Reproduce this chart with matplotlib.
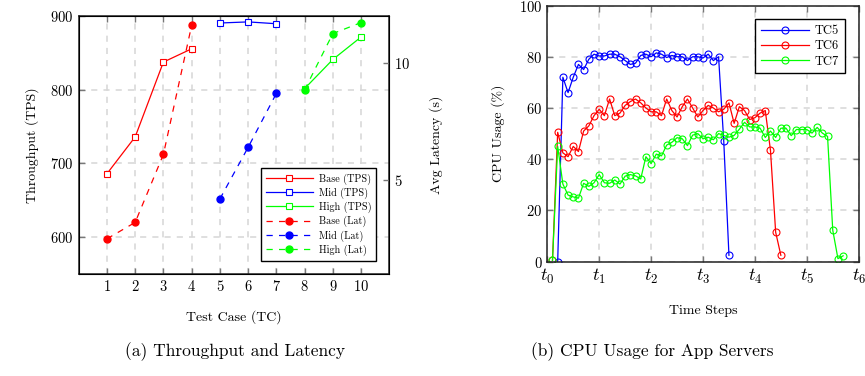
import matplotlib
matplotlib.use("Agg")
import matplotlib.pyplot as plt
import numpy as np

plt.rcParams['font.family'] = ['cmr10', 'DejaVu Serif']
plt.rcParams['mathtext.fontset'] = 'cm'
plt.rcParams['axes.formatter.use_mathtext'] = True
plt.rcParams['axes.unicode_minus'] = False

# ---------------- data: panel (a) ----------------
tc_base = [1, 2, 3, 4]
tc_mid = [5, 6, 7]
tc_high = [8, 9, 10]
tps_base = [686, 736, 837.5, 855.5]
tps_mid = [890.5, 892, 889.5]
tps_high = [801.5, 841, 871.5]
lat_base = [2.5, 3.2, 6.1, 11.6]
lat_mid = [4.2, 6.4, 8.7]
lat_high = [8.85, 11.25, 11.72]
tc_ticks = [1, 2, 3, 4, 5, 6, 7, 8, 9, 10]

# ---------------- data: panel (b) ----------------
t5 = [0.2, 0.3, 0.4, 0.5, 0.6, 0.7, 0.8, 0.9, 1.0, 1.1, 1.2, 1.3, 1.4, 1.5, 1.6,
      1.7, 1.8, 1.9, 2.0, 2.1, 2.2, 2.3, 2.4, 2.5, 2.6, 2.7, 2.8, 2.9, 3.0, 3.1,
      3.2, 3.3, 3.4, 3.5]
cpu5 = [0, 72, 66, 72, 77, 75, 79, 81, 80.3, 80.3, 81, 81, 80, 78.5, 77,
        77.5, 80.5, 81, 80, 81.5, 81, 79.7, 80.5, 80, 80, 78.5, 80, 80, 79.5, 81,
        78.5, 80, 47, 2.5]
t6 = [0.1, 0.2, 0.3, 0.4, 0.5, 0.6, 0.7, 0.8, 0.9, 1.0, 1.1, 1.2, 1.3, 1.4, 1.5,
      1.6, 1.7, 1.8, 1.9, 2.0, 2.1, 2.2, 2.3, 2.4, 2.5, 2.6, 2.7, 2.8, 2.9, 3.0,
      3.1, 3.2, 3.3, 3.4, 3.5, 3.6, 3.7, 3.8, 3.9, 4.0, 4.1, 4.2, 4.3, 4.4, 4.5]
cpu6 = [0.5, 50.5, 42.5, 41, 45, 43, 51, 53, 57, 59.5, 57, 63.5, 57, 58, 61,
        62.5, 63.5, 62, 60, 58.5, 58.5, 57, 63.5, 59, 56.5, 60.5, 63.5, 60, 56.5, 59,
        61, 60, 58.5, 59.5, 62, 54, 60.5, 59, 55.5, 56.2, 58, 59, 43.5, 11.5, 2.5]
t7 = [0.1, 0.2, 0.3, 0.4, 0.5, 0.6, 0.7, 0.8, 0.9, 1.0, 1.1, 1.2, 1.3, 1.4, 1.5,
      1.6, 1.7, 1.8, 1.9, 2.0, 2.1, 2.2, 2.3, 2.4, 2.5, 2.6, 2.7, 2.8, 2.9, 3.0,
      3.1, 3.2, 3.3, 3.4, 3.5, 3.6, 3.7, 3.8, 3.9, 4.0, 4.1, 4.2, 4.3, 4.4, 4.5,
      4.6, 4.7, 4.8, 4.9, 5.0, 5.1, 5.2, 5.3, 5.4, 5.5, 5.6, 5.7]
cpu7 = [0.5, 45, 30.3, 26, 25.3, 24.8, 30.6, 29.4, 30.8, 34, 30.8, 30.6, 31.9, 30.3, 33.4,
        34, 33.5, 32.3, 41, 38.3, 42, 41.3, 45.5, 46.6, 48.4, 48, 45.3, 49.4, 50, 48,
        48.6, 47.6, 50, 49.3, 48.6, 49.3, 51.7, 54.4, 52.6, 52.6, 52.1, 48.5, 51, 48.5, 52.1,
        52.1, 49.2, 51.6, 51.6, 51.6, 50.2, 52.4, 50.2, 48.9, 12.3, 1.2, 2.3]
t_ticks = [0, 1, 2, 3, 4, 5, 6]
t_labels = [r'$t_0$', r'$t_1$', r'$t_2$', r'$t_3$', r'$t_4$', r'$t_5$', r'$t_6$']

RED, BLUE, GREEN = (1, 0, 0), (0, 0, 1), (0, 1, 0)
W, H = 865, 376
fig = plt.figure(figsize=(W / 100, H / 100), dpi=100)

def style_axes(ax):
    ax.grid(True, which='major', linestyle=(0, (4, 4)), color='#d6d6d6', linewidth=1.1)
    ax.set_axisbelow(True)
    ax.tick_params(direction='in', length=4.5, width=1.0, color='#777777', labelsize=10.5, top=True)
    for s in ax.spines.values():
        s.set_linewidth(1.1)
        s.set_color('#222222')

# ---------------- panel (a) ----------------
ax1 = fig.add_axes([78.7 / W, 1 - 274 / H, (389.3 - 78.7) / W, (274 - 16) / H])
style_axes(ax1)
ax1.tick_params(right=False)
l1, = ax1.plot(tc_base, tps_base, '-', color=RED, marker='s', mfc='white', mec=RED, ms=5, mew=0.8, lw=0.9, label='Base (TPS)')
l2, = ax1.plot(tc_mid, tps_mid, '-', color=BLUE, marker='s', mfc='white', mec=BLUE, ms=5, mew=0.8, lw=0.9, label='Mid (TPS)')
l3, = ax1.plot(tc_high, tps_high, '-', color=GREEN, marker='s', mfc='white', mec=GREEN, ms=5, mew=0.8, lw=0.9, label='High (TPS)')
ax1.set_xlim(0, 11)
ax1.set_ylim(550, 900)
ax1.set_xticks(tc_ticks)
ax1.set_yticks([600, 700, 800, 900])
ax1.set_xlabel('Test Case (TC)', fontsize=10, labelpad=12)
ax1.set_ylabel('Throughput (TPS)', fontsize=10, labelpad=8)

ax2 = ax1.twinx()
ax2.tick_params(direction='in', length=4.5, width=1.0, color='#777777', labelsize=10.5)
dash = (0, (5, 5))
l4, = ax2.plot(tc_base, lat_base, linestyle=dash, color=RED, marker='o', ms=5, lw=0.9, label='Base (Lat)')
l5, = ax2.plot(tc_mid, lat_mid, linestyle=dash, color=BLUE, marker='o', ms=5, lw=0.9, label='Mid (Lat)')
l6, = ax2.plot(tc_high, lat_high, linestyle=dash, color=GREEN, marker='o', ms=5, lw=0.9, label='High (Lat)')
ax2.set_ylim(1, 12)
ax2.set_yticks([5, 10])
ax2.set_ylabel('Avg Latency (s)', fontsize=10, labelpad=14)
leg = ax2.legend(handles=[l1, l2, l3, l4, l5, l6], loc='lower right', fontsize=7.3,
                 frameon=True, fancybox=False, edgecolor='black', framealpha=1,
                 handlelength=4.6, borderpad=0.5, labelspacing=0.3, handletextpad=0.6,
                 bbox_to_anchor=(0.975, 0.03))
leg.get_frame().set_linewidth(1.0)

# ---------------- panel (b) ----------------
ax3 = fig.add_axes([547.3 / W, 1 - 261.7 / H, (858.7 - 547.3) / W, (261.7 - 5.5) / H])
style_axes(ax3)
ax3.tick_params(right=True)
ax3.plot(t5, cpu5, '-', color=BLUE, marker='o', mfc='none', mec=BLUE, ms=5, mew=0.8, lw=0.9, label='TC5')
ax3.plot(t6, cpu6, '-', color=RED, marker='o', mfc='none', mec=RED, ms=5, mew=0.8, lw=0.9, label='TC6')
ax3.plot(t7, cpu7, '-', color=GREEN, marker='o', mfc='none', mec=GREEN, ms=5, mew=0.8, lw=0.9, label='TC7')
ax3.set_xlim(0, 6)
ax3.set_ylim(0, 100)
ax3.set_xticks(t_ticks)
ax3.set_xticklabels(t_labels, fontsize=13)
ax3.set_yticks([0, 20, 40, 60, 80, 100])
ax3.set_xlabel('Time Steps', fontsize=10, labelpad=14)
ax3.set_ylabel('CPU Usage (%)', fontsize=10, labelpad=10)
leg3 = ax3.legend(loc='upper right', fontsize=9, frameon=True, fancybox=False, edgecolor='black',
                  framealpha=1, handlelength=3.8, borderpad=0.45, labelspacing=0.25, handletextpad=0.5,
                  bbox_to_anchor=(0.975, 0.97))
leg3.get_frame().set_linewidth(1.0)

# ---------------- captions ----------------
fig.text(235 / W, 1 - 352 / H, '(a) Throughput and Latency', ha='center', va='center', fontsize=12.5)
fig.text(652 / W, 1 - 352 / H, '(b) CPU Usage for App Servers', ha='center', va='center', fontsize=12.5)

fig.savefig('out.png', dpi=100)
